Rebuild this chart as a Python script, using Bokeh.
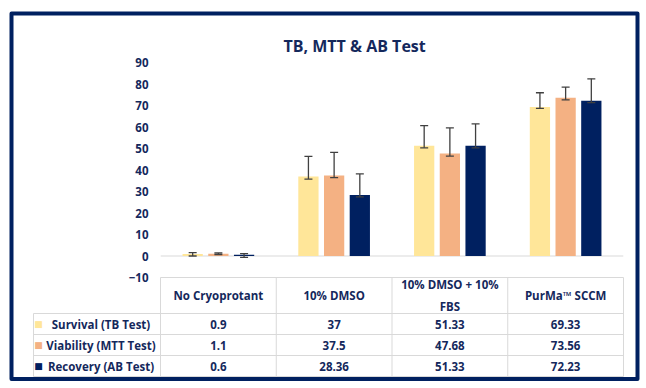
import textwrap
import numpy as np
from bokeh.plotting import figure
from bokeh.models import ColumnDataSource, Range1d, FixedTicker, Whisker, TeeHead, Span
from bokeh.core.properties import value
from bokeh.embed import file_html
from bokeh.resources import INLINE

# ---------------- data ----------------
categories = ["No Cryoprotant", "10% DMSO", "10% DMSO + 10% FBS", "PurMa™ SCCM"]
series_names = ["Survival (TB Test)", "Viability (MTT Test)", "Recovery (AB Test)"]
survival = [0.9, 37, 51.33, 69.33]
viability = [1.1, 37.5, 47.68, 73.56]
recovery = [0.6, 28.36, 51.33, 72.23]
survival_err_up = [0.7, 9.3, 9.3, 6.6]
viability_err_up = [0.3, 10.7, 11.9, 5.0]
recovery_err_up = [0.5, 9.8, 10.1, 10.2]
survival_err_down = [0.9, 1.2, 1.0, 0.7]
viability_err_down = [0.5, 1.0, 1.2, 0.9]
recovery_err_down = [1.2, 0.9, 1.0, 0.9]
y_ticks = [-10, 0, 10, 20, 30, 40, 50, 60, 70, 80, 90]
colors = ["#FFE699", "#F4B183", "#002060"]

series_values = [survival, viability, recovery]
series_up = [survival_err_up, viability_err_up, recovery_err_up]
series_down = [survival_err_down, viability_err_down, recovery_err_down]

# ---------------- geometry ----------------
W, H = 640, 384
FL, FR, FT, FB = 160, 17, 62, 8
frame_w = W - FL - FR
frame_h = H - FT - FB
PLOT_PX = 215                      # px between 90 and -10
ppu = PLOT_PX / (y_ticks[-1] - y_ticks[0])
y_start = y_ticks[-1] - frame_h / ppu
xppu = frame_w / len(categories)

def ypx(d):   # d px below the -10 line
    return y_ticks[0] - d / ppu

def xpx(d):   # d px left of the frame
    return -0.5 - d / xppu

def cx(px):   # canvas x -> data x
    return -0.5 + (px - FL) / xppu

def cy(py):   # canvas y -> data y
    return y_ticks[-1] - (py - FT) / ppu

TXT = "#14285C"
GRID = "#D9D9D9"
NAVY = "#002060"
FONT = value("Open Sans")

p = figure(width=W, height=H, x_range=Range1d(-0.5, len(categories) - 0.5),
           y_range=Range1d(y_start, y_ticks[-1]), output_backend="svg",
           toolbar_location=None, min_border_left=FL, min_border_right=FR,
           min_border_top=FT, min_border_bottom=FB, x_axis_location=None)
p.background_fill_color = "white"
p.border_fill_color = "white"
p.outline_line_color = None
p.xgrid.visible = False
p.ygrid.visible = False

# title
p.title.text = "TB, MTT & AB Test"
p.title.align = "left"
p.title.offset = 123
p.title.standoff = 12
p.title.text_font = "Open Sans"
p.title.text_font_style = "bold"
p.title.text_font_size = "16px"
p.title.text_color = TXT

# y axis
p.yaxis.ticker = FixedTicker(ticks=y_ticks)
p.yaxis.axis_line_color = None
p.yaxis.major_tick_line_color = None
p.yaxis.minor_tick_line_color = None
p.yaxis.major_tick_out = 0
p.yaxis.major_label_standoff = 12
p.yaxis.major_label_text_font = "Open Sans"
p.yaxis.major_label_text_font_style = "bold"
p.yaxis.major_label_text_font_size = "11.5px"
p.yaxis.major_label_text_color = TXT

# zero line
p.add_layout(Span(location=0, dimension="width", line_color=GRID, line_width=1.2,
                  level="underlay"))

# bars + error bars
offsets = [-0.222, 0.0, 0.222]
xs = np.arange(len(categories))
for vals, up, dn, col, off in zip(series_values, series_up, series_down, colors, offsets):
    v = np.array(vals, dtype=float)
    src = ColumnDataSource(dict(x=xs + off, top=v, upper=v + np.array(up),
                                lower=v - np.array(dn)))
    p.vbar(x="x", top="top", bottom=0, width=0.175, source=src, fill_color=col,
           line_color=None)
    wk = Whisker(base="x", upper="upper", lower="lower", source=src,
                 line_color="#404040", line_width=1.3, level="annotation",
                 upper_head=TeeHead(size=8, line_color="#404040", line_width=1.3),
                 lower_head=TeeHead(size=8, line_color="#404040", line_width=1.3))
    p.add_layout(wk)

# ---------------- data table ----------------
HEAD = 36
ROW = 21
n_rows = len(series_names)
table_bottom = HEAD + ROW * n_rows
legend_left = xpx(127)

x0s, y0s, x1s, y1s = [], [], [], []
x0s.append(-0.5); x1s.append(len(categories) - 0.5); y0s.append(ypx(0)); y1s.append(ypx(0))
for r in range(n_rows + 1):
    yy = ypx(HEAD + ROW * r)
    x0s.append(legend_left); x1s.append(len(categories) - 0.5); y0s.append(yy); y1s.append(yy)
for c in range(len(categories) + 1):
    xx = c - 0.5
    x0s.append(xx); x1s.append(xx); y0s.append(ypx(0)); y1s.append(ypx(table_bottom))
x0s.append(legend_left); x1s.append(legend_left); y0s.append(ypx(HEAD)); y1s.append(ypx(table_bottom))
p.segment(x0=x0s, y0=y0s, x1=x1s, y1=y1s, line_color=GRID, line_width=1, level="annotation")

# header text
p.text(x=list(xs), y=[ypx(HEAD / 2)] * len(categories),
       text=[textwrap.fill(c, 15) for c in categories],
       text_font=FONT, text_font_style="bold", text_font_size="11.5px",
       text_color=TXT, text_align="center", text_baseline="middle",
       text_line_height=1.45, level="annotation")

# rows
for r, (name, vals, col) in enumerate(zip(series_names, series_values, colors)):
    yy = ypx(HEAD + ROW * r + ROW / 2)
    p.text(x=list(xs), y=[yy] * len(vals), text=["{:g}".format(v) for v in vals],
           text_font=FONT, text_font_style="bold", text_font_size="11.5px",
           text_color=TXT, text_align="center", text_baseline="middle",
           level="annotation")
    p.text(x=[xpx(59.5)], y=[yy], text=[name], text_font=FONT, text_font_style="bold",
           text_font_size="11.5px", text_color=TXT, text_align="center",
           text_baseline="middle", level="annotation")
    p.text(x=[xpx(122)], y=[yy], text=["\u25A0"], text_font=value("DejaVu Sans"),
           text_font_size="9px", text_color=col, text_align="center",
           text_baseline="middle", level="annotation")

# outer frame
bx = [cx(11), cx(637), cx(637), cx(11)]
by = [cy(13), cy(13), cy(378.5), cy(378.5)]
p.patch(x=bx, y=by, fill_color=None, line_color=NAVY, line_width=4,
        line_join="round", level="annotation")

open("out.html", "w").write(file_html(p, INLINE))
